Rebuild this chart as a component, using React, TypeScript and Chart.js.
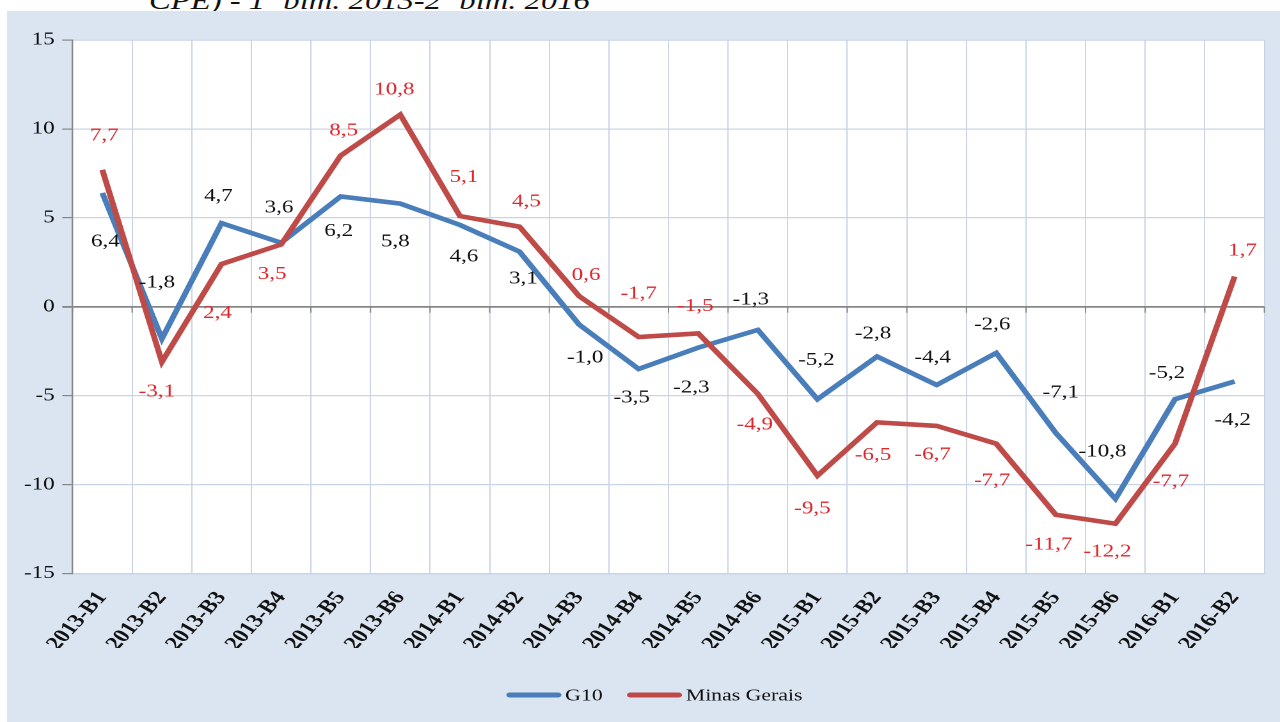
import { useEffect, useRef } from "react";
import { Chart, registerables } from "chart.js";

Chart.register(...registerables);

const categories = [
  "2013-B1", "2013-B2", "2013-B3", "2013-B4", "2013-B5", "2013-B6",
  "2014-B1", "2014-B2", "2014-B3", "2014-B4", "2014-B5", "2014-B6",
  "2015-B1", "2015-B2", "2015-B3", "2015-B4", "2015-B5", "2015-B6",
  "2016-B1", "2016-B2",
];
const g10Values = [6.4, -1.8, 4.7, 3.6, 6.2, 5.8, 4.6, 3.1, -1.0, -3.5, -2.3, -1.3, -5.2, -2.8, -4.4, -2.6, -7.1, -10.8, -5.2, -4.2];
const minasGeraisValues = [7.7, -3.1, 2.4, 3.5, 8.5, 10.8, 5.1, 4.5, 0.6, -1.7, -1.5, -4.9, -9.5, -6.5, -6.7, -7.7, -11.7, -12.2, -7.7, 1.7];
const seriesNames = ["G10", "Minas Gerais"];
const yMin = -15;
const yMax = 15;
const yStep = 5;
const titleText = "CPE) - 1º bim. 2013-2º bim. 2016";

// label placement relative to each point (screen px), as in the original
const g10LabelOffsets = [[3, 49], [-5, -56], [-3, -27], [-2, -35], [-2, 35], [-5, 38], [4, 32], [4, 27], [6, 33], [-7, 29], [-7, 40], [-7, -30], [-1, -39], [-4, -23], [-4, -27], [-4, -28], [5, -40], [-13, -47], [-8, -26], [-2, 39]];
const mgLabelOffsets = [[2, -34], [-5, 30], [-4, 49], [-9, 30], [3, -25], [-6, -25], [4, -39], [7, -25], [7, -21], [0, -43], [-3, -27], [-3, 31], [-5, 33], [-4, 33], [-4, 29], [-4, 37], [-7, 30], [-8, 28], [-4, 38], [8, -26]];

const FONT = "'Liberation Serif', 'Times New Roman', serif";
const BLUE = "#4a7ebb";
const RED = "#be4b48";
const GRID = "#cad4e6";
const AXIS = "#868686";
const TEXT = "#111111";
const LABEL_RED = "#e0262b";

// the original picture is horizontally stretched; the chart is drawn narrower and widened by CSS
const STRETCH = 1.28;
const PANEL_W = 1273;
const PANEL_H = 711;
const CANVAS_W = Math.round(PANEL_W / STRETCH);

export default function App() {
  const canvasRef = useRef<HTMLCanvasElement | null>(null);

  useEffect(() => {
    const canvas = canvasRef.current;
    if (!canvas) return;

    const labelSets = [
      { offsets: g10LabelOffsets, color: TEXT },
      { offsets: mgLabelOffsets, color: LABEL_RED },
    ];

    const plotDecor = {
      id: "plotDecor",
      beforeDraw(chart: any) {
        const { ctx, chartArea } = chart;
        ctx.save();
        ctx.fillStyle = "#ffffff";
        ctx.fillRect(chartArea.left, chartArea.top, chartArea.right - chartArea.left, chartArea.bottom - chartArea.top);
        ctx.restore();
      },
      beforeDatasetsDraw(chart: any) {
        const { ctx } = chart;
        const xs = chart.scales.x;
        const ys = chart.scales.y;
        const y0 = ys.getPixelForValue(0);
        ctx.save();
        ctx.strokeStyle = AXIS;
        ctx.lineWidth = 1;
        for (let i = 0; i <= categories.length; i++) {
          const x = xs.getPixelForValue(i - 0.5);
          ctx.beginPath();
          ctx.moveTo(x, y0);
          ctx.lineTo(x, y0 + 6);
          ctx.stroke();
        }
        ctx.restore();
      },
    };

    const valueLabels = {
      id: "valueLabels",
      afterDatasetsDraw(chart: any) {
        const { ctx } = chart;
        ctx.save();
        ctx.font = `18px ${FONT}`;
        ctx.textAlign = "center";
        ctx.textBaseline = "middle";
        chart.data.datasets.forEach((ds: any, di: number) => {
          const meta = chart.getDatasetMeta(di);
          const set = labelSets[di];
          ctx.fillStyle = set.color;
          meta.data.forEach((pt: any, i: number) => {
            const v = ds.data[i] as number;
            const [dx, dy] = set.offsets[i];
            ctx.fillText(v.toFixed(1).replace(".", ","), pt.x + dx / STRETCH, pt.y + dy);
          });
        });
        ctx.restore();
      },
    };

    const lineLegend = {
      id: "lineLegend",
      afterDraw(chart: any) {
        const { ctx, chartArea } = chart;
        const fontSize = 17;
        const lineLen = 43;
        const gapText = 3;
        const gapItem = 19;
        ctx.save();
        ctx.font = `${fontSize}px ${FONT}`;
        ctx.textBaseline = "middle";
        ctx.textAlign = "left";
        const items = chart.data.datasets.map((ds: any) => ({
          text: ds.label as string,
          color: ds.borderColor as string,
          w: ctx.measureText(ds.label).width,
        }));
        const total = items.reduce((s: number, it: any) => s + lineLen + gapText + it.w, 0) + gapItem * (items.length - 1);
        const cx = (chartArea.left + chartArea.right) / 2 - 11;
        const y = 684;
        let x = cx - total / 2;
        items.forEach((it: any) => {
          ctx.strokeStyle = it.color;
          ctx.lineWidth = 5;
          ctx.lineCap = "round";
          ctx.beginPath();
          ctx.moveTo(x + 2.5, y);
          ctx.lineTo(x + lineLen - 2.5, y);
          ctx.stroke();
          ctx.fillStyle = TEXT;
          ctx.fillText(it.text, x + lineLen + gapText, y + 1);
          x += lineLen + gapText + it.w + gapItem;
        });
        ctx.restore();
      },
    };

    const chart = new Chart(canvas, {
      type: "line",
      data: {
        labels: categories,
        datasets: [
          {
            label: seriesNames[0],
            data: g10Values,
            borderColor: BLUE,
            backgroundColor: BLUE,
            borderWidth: 4.6,
            pointRadius: 0,
            tension: 0,
            order: 2,
          },
          {
            label: seriesNames[1],
            data: minasGeraisValues,
            borderColor: RED,
            backgroundColor: RED,
            borderWidth: 4.6,
            pointRadius: 0,
            tension: 0,
            order: 1,
          },
        ],
      },
      options: {
        animation: false,
        responsive: false,
        devicePixelRatio: 2,
        layout: { padding: { left: 0, top: 29, right: CANVAS_W - 982.8, bottom: 74 } },
        plugins: {
          tooltip: { enabled: false },
          legend: { display: false },
        },
        scales: {
          x: {
            type: "category",
            offset: true,
            grid: {
              display: true,
              offset: true,
              color: GRID,
              lineWidth: 1,
              drawTicks: false,
            },
            border: { display: true, color: GRID, width: 1.2 },
            ticks: {
              autoSkip: false,
              maxRotation: 54,
              minRotation: 54,
              padding: 14,
              color: TEXT,
              font: { family: FONT, size: 19, weight: "bold" },
            },
            afterFit: (scale: any) => {
              scale.height = 74.5;
            },
          },
          y: {
            min: yMin,
            max: yMax,
            ticks: {
              stepSize: yStep,
              padding: 6,
              color: TEXT,
              font: { family: FONT, size: 18 },
            },
            grid: {
              color: (c: any) => (c.tick && c.tick.value === 0 ? AXIS : GRID),
              lineWidth: (c: any) => (c.tick && c.tick.value === 0 ? 1.8 : 1.2),
              tickColor: AXIS,
              tickLength: 8,
              drawTicks: true,
            },
            border: { display: true, color: AXIS, width: 1.2 },
            afterFit: (scale: any) => {
              scale.width = 51.2;
            },
          },
        },
      },
      plugins: [plotDecor, valueLabels, lineLegend],
    });

    return () => chart.destroy();
  }, []);

  return (
    <div
      style={{
        position: "fixed",
        left: 0,
        top: 0,
        width: 1280,
        height: 722,
        overflow: "hidden",
        background: "#ffffff",
      }}
    >
      <div
        style={{
          position: "absolute",
          left: 149,
          top: -12,
          fontFamily: FONT,
          fontStyle: "italic",
          fontSize: 25.5,
          lineHeight: "26px",
          whiteSpace: "nowrap",
          color: TEXT,
          transform: `scaleX(${STRETCH})`,
          transformOrigin: "left top",
        }}
      >
        {titleText}
      </div>
      <div
        style={{
          position: "absolute",
          left: 7,
          top: 11,
          width: PANEL_W,
          height: PANEL_H,
          background: "#dbe5f1",
        }}
      >
        <canvas
          ref={canvasRef}
          width={CANVAS_W}
          height={PANEL_H}
          style={{ display: "block", width: PANEL_W, height: PANEL_H }}
        />
      </div>
    </div>
  );
}
